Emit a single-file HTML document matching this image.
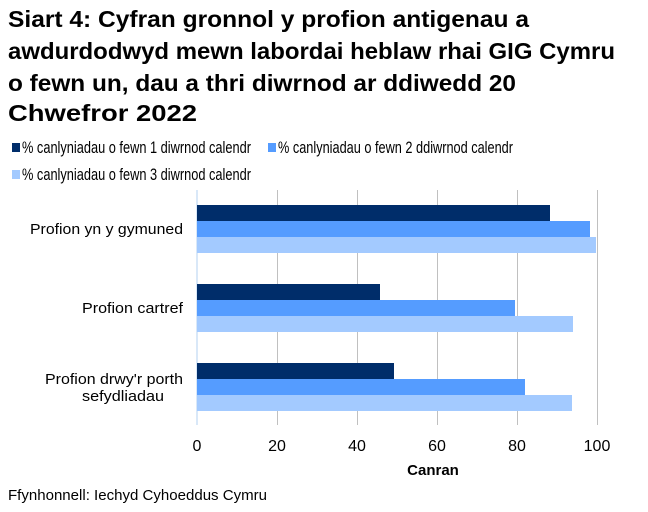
<!DOCTYPE html>
<html><head><meta charset="utf-8"><style>
body{margin:0;background:#fff;}
svg{display:block;font-family:"Liberation Sans",sans-serif;}
</style></head><body>
<svg width="648" height="512" xmlns="http://www.w3.org/2000/svg">
<g font-size="23.5" font-weight="bold" fill="#000">
<text x="8" y="27" textLength="521" lengthAdjust="spacingAndGlyphs">Siart 4: Cyfran gronnol y profion antigenau a</text>
<text x="8" y="59" textLength="607" lengthAdjust="spacingAndGlyphs">awdurdodwyd mewn labordai heblaw rhai GIG Cymru</text>
<text x="8" y="91" textLength="508" lengthAdjust="spacingAndGlyphs">o fewn un, dau a thri diwrnod ar ddiwedd 20</text>
<text x="8" y="121" textLength="189" lengthAdjust="spacingAndGlyphs">Chwefror 2022</text>
</g>
<g font-size="16.5" fill="#000">
<rect x="12" y="143" width="8" height="9" fill="#002d6a"/>
<text x="22" y="153" textLength="229" lengthAdjust="spacingAndGlyphs">% canlyniadau o fewn 1 diwrnod calendr</text>
<rect x="268" y="143" width="8" height="9" fill="#559cff"/>
<text x="278" y="153" textLength="235" lengthAdjust="spacingAndGlyphs">% canlyniadau o fewn 2 ddiwrnod calendr</text>
<rect x="12" y="170" width="8" height="9" fill="#a3caff"/>
<text x="22" y="180" textLength="229" lengthAdjust="spacingAndGlyphs">% canlyniadau o fewn 3 diwrnod calendr</text>
</g>
<g stroke="#c0c0c0" stroke-width="1">
<line x1="277.5" y1="190" x2="277.5" y2="425"/>
<line x1="357.5" y1="190" x2="357.5" y2="425"/>
<line x1="437.5" y1="190" x2="437.5" y2="425"/>
<line x1="517.5" y1="190" x2="517.5" y2="425"/>
<line x1="597.5" y1="190" x2="597.5" y2="425"/>
</g>
<line x1="197" y1="190" x2="197" y2="425" stroke="#b3d0f0" stroke-width="1"/>
<g>
<rect x="197" y="205" width="353" height="16" fill="#002d6a"/>
<rect x="197" y="221" width="393" height="16" fill="#559cff"/>
<rect x="197" y="237" width="399" height="16" fill="#a3caff"/>
<rect x="197" y="284" width="183" height="16" fill="#002d6a"/>
<rect x="197" y="300" width="318" height="16" fill="#559cff"/>
<rect x="197" y="316" width="376" height="16" fill="#a3caff"/>
<rect x="197" y="363" width="197" height="16" fill="#002d6a"/>
<rect x="197" y="379" width="328" height="16" fill="#559cff"/>
<rect x="197" y="395" width="375" height="16" fill="#a3caff"/>
</g>
<g font-size="15" fill="#000" text-anchor="end">
<text x="183" y="234" textLength="153" lengthAdjust="spacingAndGlyphs">Profion yn y gymuned</text>
<text x="183" y="313" textLength="101" lengthAdjust="spacingAndGlyphs">Profion cartref</text>
<text x="183" y="384" textLength="138" lengthAdjust="spacingAndGlyphs">Profion drwy'r porth</text>
<text x="164" y="401" textLength="82" lengthAdjust="spacingAndGlyphs">sefydliadau</text>
</g>
<g font-size="16" fill="#000" text-anchor="middle">
<text x="197" y="451">0</text>
<text x="277" y="451">20</text>
<text x="357" y="451">40</text>
<text x="437" y="451">60</text>
<text x="517" y="451">80</text>
<text x="597" y="451">100</text>
</g>
<text x="433" y="475" font-size="15" font-weight="bold" text-anchor="middle">Canran</text>
<text x="8" y="500" font-size="15" textLength="259" lengthAdjust="spacingAndGlyphs">Ffynhonnell: Iechyd Cyhoeddus Cymru</text>
</svg>
</body></html>
